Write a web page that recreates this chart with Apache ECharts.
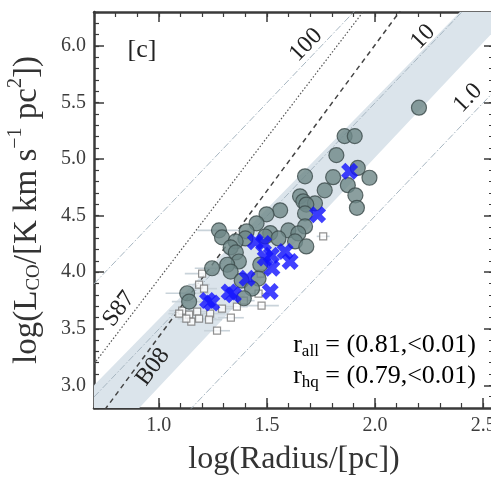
<!DOCTYPE html>
<html><head><meta charset="utf-8">
<script src="https://cdn.jsdelivr.net/npm/echarts@6/dist/echarts.min.js"></script>
<style>html,body{margin:0;padding:0;background:#fff}#c{width:491px;height:477px}</style>
</head><body><div id="c"></div>
<script>
// ---------- data ----------
const xTickLabels = [1.0, 1.5, 2.0, 2.5];
const yTickLabels = [3.0, 3.5, 4.0, 4.5, 5.0, 5.5, 6.0];
const XMIN = 0.7, XMAX = 2.55, YMIN = 2.8, YMAX = 6.3;

// grey filled circles [logR, logL]
const circles = [
  [2.203,5.454],[1.859,5.203],[1.906,5.203],[1.821,5.035],[1.920,4.922],
  [1.676,4.848],[1.806,4.840],[1.974,4.835],[1.874,4.769],[1.767,4.724],
  [1.909,4.680],[1.653,4.671],[1.668,4.627],[1.722,4.609],[1.682,4.598],
  [1.916,4.569],[1.676,4.520],[1.561,4.547],[1.498,4.512],[1.452,4.432],
  [1.676,4.405],[1.599,4.370],[1.278,4.370],[1.406,4.361],[1.645,4.343],
  [1.515,4.346],[1.492,4.316],[1.292,4.308],[1.400,4.299],[1.355,4.272],
  [1.553,4.299],[1.630,4.272],[1.682,4.228],[1.332,4.219],[1.356,4.175],
  [1.370,4.095],[1.246,4.035],[1.316,4.066],[1.332,4.006],[1.469,4.068],
  [1.383,3.926],[1.461,3.944],[1.431,3.855],[1.131,3.814],[1.140,3.740],
  [1.393,3.770]
];
// blue crosses
const crosses = [
  [1.882,4.893],[1.734,4.509],[1.446,4.270],[1.484,4.255],[1.492,4.125],
  [1.520,4.150],[1.523,4.035],[1.584,4.183],[1.607,4.095],[1.408,3.947],
  [1.325,3.825],[1.345,3.800],[1.515,3.829],[1.225,3.750],[1.245,3.728]
];
// open squares
const squares = [
  [1.760,4.317],[1.200,3.988],[1.186,3.891],[1.209,3.855],[1.471,3.988],
  [1.475,3.705],[1.461,3.811],[1.108,3.660],[1.140,3.625],[1.177,3.652],
  [1.237,3.634],[1.150,3.563],[1.186,3.590],[1.232,3.581],[1.333,3.598],
  [1.269,3.483],[1.292,3.678],[1.094,3.634],[1.127,3.590],[1.393,3.749],
  [1.361,3.696]
];
const squareXErr = [0.03,0.08,0.05,0.06,0.05,0.08,0.05,0.06,0.05,0.06,
  0.07,0.05,0.08,0.06,0.06,0.06,0.05,0.05,0.04,0.05,0.05];
// horizontal error bars on some circles [x, y, halfwidth]
const circleXErr = [[1.278,4.370,0.10],[1.131,3.814,0.10],[1.246,4.035,0.08],[1.140,3.740,0.08]];

// reference relations: log L = slope*log R + intercept
const sigmaLevels = [1, 10, 100];           // constant surface brightness lines
const sigmaLabels = ['1.0', '10', '100'];
const s87 = {slope: 2.5, intercept: 1.44};
const b08 = {slope: 2.58, intercept: 0.85};
const bandUpper = {slope: 1.95, intercept: 1.635};
const bandLower = {slope: 2.03, intercept: 0.955};
const corrAll = '(0.81,<0.01)';
const corrHq = '(0.79,<0.01)';

// ---------- chart ----------
const SERIF = '"Liberation Serif","DejaVu Serif",serif';
const AX = '#3a3a3a';
const GRID = {left: 94, top: 12, width: 400, height: 396, outerBoundsMode: 'none', containLabel: false};

function lineEnds(rel) {
  return [[XMIN, rel.slope * XMIN + rel.intercept], [XMAX, rel.slope * XMAX + rel.intercept]];
}
function fmt(v) { return Number(v).toFixed(1); }

function majorAxis(dim, pos, withLabels, vals, min, max, extra) {
  return Object.assign({
    type: 'value', position: pos, min: min, max: max, interval: 0.1,
    axisLine: {show: true, onZero: false, lineStyle: {color: AX, width: 2.5}},
    axisTick: {show: true, inside: true, length: 10, customValues: vals, lineStyle: {color: AX, width: 1.5}},
    axisLabel: {show: withLabels, customValues: vals, formatter: fmt, fontFamily: SERIF, fontSize: 20, color: '#3c3c3c', margin: 8},
    splitLine: {show: false}
  }, extra || {});
}
function minorAxis(pos, min, max) {
  return {
    type: 'value', position: pos, min: min, max: max, interval: 0.1,
    axisLine: {show: false, onZero: false},
    axisTick: {show: true, inside: true, length: 5, lineStyle: {color: AX, width: 1.2}},
    axisLabel: {show: false}, splitLine: {show: false}
  };
}

const xCross = 'path://M5,0 L10,5 L15,0 L20,5 L15,10 L20,15 L15,20 L10,15 L5,20 L0,15 L5,10 L0,5 Z';

const series = [];
// band
series.push({
  type: 'custom', data: [0], silent: true, z: 1,
  renderItem: function (params, api) {
    const cs = params.coordSys;
    const p = [
      api.coord(lineEnds(bandLower)[0]), api.coord(lineEnds(bandLower)[1]),
      api.coord(lineEnds(bandUpper)[1]), api.coord(lineEnds(bandUpper)[0])
    ];
    return {type: 'group', clipPath: {type: 'rect', shape: {x: cs.x, y: cs.y, width: cs.width, height: cs.height}},
      children: [{type: 'polygon', shape: {points: p}, style: {fill: '#dbe4eb'}}]};
  }
});
// sigma lines
sigmaLevels.forEach(function (s) {
  series.push({type: 'line', data: lineEnds({slope: 2, intercept: Math.log10(s) + Math.log10(Math.PI)}),
    showSymbol: false, silent: true, z: 2, clip: true,
    lineStyle: {color: '#a7b6c1', width: 1, type: [7, 2, 1.5, 2]}});
});
series.push({type: 'line', data: lineEnds(s87), showSymbol: false, silent: true, z: 2, clip: true,
  lineStyle: {color: '#555', width: 1.2, type: [1.5, 2]}});
series.push({type: 'line', data: lineEnds(b08), showSymbol: false, silent: true, z: 2, clip: true,
  lineStyle: {color: '#444', width: 1.5, type: [5, 4]}});
// error bars
const errData = squares.map(function (p, i) { return [p[0], p[1], squareXErr[i]]; }).concat(circleXErr);
series.push({
  type: 'custom', data: errData, silent: true, z: 3,
  renderItem: function (params, api) {
    const x = api.value(0), y = api.value(1), e = api.value(2);
    const a = api.coord([x - e, y]), b = api.coord([x + e, y]);
    return {type: 'line', shape: {x1: a[0], y1: a[1], x2: b[0], y2: b[1]}, style: {stroke: '#c9d3da', lineWidth: 1.6}};
  }
});
series.push({type: 'scatter', data: squares, symbol: 'rect', symbolSize: 7, z: 4,
  itemStyle: {color: '#fff', borderColor: '#777', borderWidth: 1.2}});
series.push({type: 'scatter', data: circles, symbol: 'circle', symbolSize: 15, z: 5,
  itemStyle: {color: '#6e8787', borderColor: '#3c4b4b', borderWidth: 1.2}});
series.push({type: 'scatter', data: crosses, symbol: xCross, symbolSize: 17, z: 6,
  itemStyle: {color: '#1212ff'}});

function rot(deg) { return deg * Math.PI / 180; }
function label(text, x, y, deg, size) {
  return {type: 'text', x: x, y: y, rotation: rot(deg), z: 20,
    style: {text: text, font: size + 'px ' + SERIF, fill: '#222', align: 'center', verticalAlign: 'middle'}};
}
const richR = {
  t: {fontFamily: SERIF, fontSize: 26, lineHeight: 30, color: '#222', verticalAlign: 'middle'},
  sub: {fontFamily: SERIF, fontSize: 17, lineHeight: 17, color: '#222', verticalAlign: 'bottom'}
};

const option = {
  animation: false,
  grid: GRID,
  xAxis: [
    majorAxis('x', 'bottom', true, xTickLabels, XMIN, XMAX, {
      name: 'log(Radius/[pc])', nameLocation: 'middle', nameGap: 36,
      nameTextStyle: {fontFamily: SERIF, fontSize: 32, color: '#333'}}),
    minorAxis('bottom', XMIN, XMAX),
    majorAxis('x', 'top', false, xTickLabels, XMIN, XMAX),
    minorAxis('top', XMIN, XMAX)
  ],
  yAxis: [
    majorAxis('y', 'left', true, yTickLabels, YMIN, YMAX, {
      name: '{t|log(L}{sub|CO}{t|/[K km s}{sup|−1}{t| pc}{sup|2}{t|])}',
      nameLocation: 'middle', nameGap: 46, nameRotate: 90,
      nameTextStyle: {rich: {
        t: {fontFamily: SERIF, fontSize: 33, lineHeight: 42, color: '#333', verticalAlign: 'middle'},
        sub: {fontFamily: SERIF, fontSize: 19, lineHeight: 19, color: '#333', verticalAlign: 'bottom', padding: [0, 0, 4, 0]},
        sup: {fontFamily: SERIF, fontSize: 20, lineHeight: 20, color: '#333', verticalAlign: 'top'}
      }}}),
    minorAxis('left', YMIN, YMAX),
    majorAxis('y', 'right', false, yTickLabels, YMIN, YMAX),
    minorAxis('right', YMIN, YMAX)
  ],
  graphic: [
    label('[c]', 142, 50, 0, 26),
    label(sigmaLabels[2], 306, 45, 46, 24),
    label(sigmaLabels[1], 423, 37, 46, 24),
    label(sigmaLabels[0], 468, 98, 46, 24),
    label('S87', 119, 309, 53, 24),
    label('B08', 153, 367, 53, 24),
    {type: 'text', x: 476, y: 345, z: 20, style: {text: '{t|r}{sub|all}{t| = ' + corrAll + '}', rich: richR, align: 'right', verticalAlign: 'middle'}},
    {type: 'text', x: 476, y: 376, z: 20, style: {text: '{t|r}{sub|hq}{t| = ' + corrHq + '}', rich: richR, align: 'right', verticalAlign: 'middle'}}
  ],
  series: series.map(function (s) { return Object.assign({xAxisIndex: 0, yAxisIndex: 0}, s); })
};
const chart = echarts.init(document.getElementById('c'), null, {renderer: 'canvas'});
chart.setOption(option);
</script></body></html>
